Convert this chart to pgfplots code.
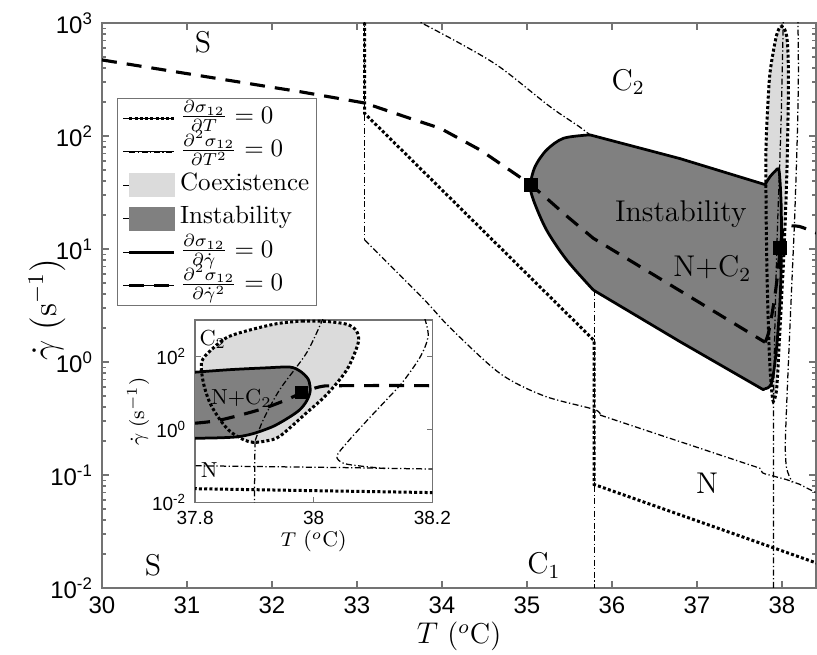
\documentclass[border=0pt]{standalone}
\usepackage{fontspec}
\usepackage{pgfplots}
\usepackage{pgfplotstable}
\pgfplotsset{compat=1.18}
\usetikzlibrary{calc}
\newfontfamily\helv{Liberation Sans}
\definecolor{lightfill}{gray}{0.86}
\definecolor{darkfill}{gray}{0.5}
\definecolor{axgray}{gray}{0.45}
\tikzset{
  dotl/.style={black, line width=1.2pt, dash pattern=on 1.2pt off 0.9pt},
  ddl/.style={black, line width=0.5pt, dash pattern=on 2.4pt off 1pt on 0.5pt off 1pt},
  sol/.style={black, line width=1.1pt, line join=round},
  dsh/.style={black, line width=1.25pt, dash pattern=on 6pt off 4pt},
}
% coexistence loop (dT sigma = 0), log10 of shear rate
\pgfplotstableread{
x y
37.98 2.97
38.02 2.96
38.056 2.88
38.072 2.70
38.075 2.37
38.056 1.64
38.022 0.96
37.988 0.46
37.943 -0.18
37.92 -0.31
37.898 -0.35
37.881 -0.27
37.859 -0.05
37.842 0.27
37.825 0.73
37.814 1.28
37.811 1.85
37.828 2.19
37.859 2.56
37.932 2.88
37.98 2.97
}\tLoop
\pgfplotstableread{
x y
35.78 0.637
35.467 0.903
35.23 1.168
35.075 1.434
35.04 1.566
35.094 1.728
35.23 1.876
35.43 1.98
35.74 2.01
36.8 1.80
37.8 1.57
37.859 1.64
37.921 1.69
37.96 1.71
37.977 1.60
37.991 1.37
37.994 1.05
37.988 0.78
37.977 0.55
37.96 0.35
37.932 0.09
37.898 -0.11
37.87 -0.20
37.831 -0.23
37.8 -0.235
37.78 -0.245
36.8 0.18
35.78 0.637
}\tInst
\pgfplotstableread{
x y
35.78 0.637
35.467 0.903
35.23 1.168
35.075 1.434
35.04 1.566
35.094 1.728
35.23 1.876
35.43 1.98
35.74 2.01
}\tBulge
\pgfplotstableread{
x y
35.74 2.01
36.8 1.80
37.8 1.57
}\tUpper
\pgfplotstableread{
x y
37.8 1.57
37.859 1.64
37.921 1.69
37.96 1.71
37.977 1.60
37.991 1.37
37.994 1.05
37.988 0.78
37.977 0.55
37.96 0.35
37.932 0.09
37.898 -0.11
37.87 -0.20
37.831 -0.23
37.8 -0.235
}\tEnd
\pgfplotstableread{
x y
37.8 -0.235
37.78 -0.245
36.8 0.18
35.78 0.637
}\tLower
\pgfplotstableread{
x y
33.66 3.04
34.21 2.82
34.68 2.61
35.27 2.26
35.62 2.08
35.74 2.01
}\tDDtop
\pgfplotstableread{
x y
33.09 1.08
33.78 0.56
34.1 0.30
34.68 -0.10
35.2 -0.30
35.79 -0.42
35.86 -0.47
}\tDDdiag
\pgfplotstableread{
x y
35.86 -0.47
37.74 -0.94
37.77 -0.98
37.8 -0.99
38.05 -1.04
38.2 -1.08
38.41 -1.16
}\tDDflat
\pgfplotstableread{
x y
38.016 3.05
37.988 2.10
37.943 1.10
37.915 0.27
37.901 -0.32
}\tDDleft
\pgfplotstableread{
x y
38.187 3.05
38.193 2.56
38.18 2.0
38.15 1.3
38.123 0.82
38.09 0.25
38.056 -0.36
38.039 -0.73
38.05 -0.92
38.08 -1.0
38.12 -1.065
}\tDDs
\pgfplotstableread{
x y
33.09 3.05
33.09 2.20
35.79 0.19
35.79 -1.084
38.41 -1.78
}\tDot
\pgfplotstableread{
x y
30 2.673
31 2.552
32 2.431
32.33 2.392
33.09 2.292
33.62 2.157
33.98 2.068
34.45 1.876
34.88 1.655
35.05 1.566
35.23 1.449
35.47 1.29
35.78 1.095
37.8 0.175
}\tDashA
\pgfplotstableread{
x y
37.8 0.175
37.842 0.26
37.91 0.55
37.955 0.82
37.98 1.01
38.01 1.17
38.04 1.2
38.2 1.2
38.41 1.14
}\tDashB
\newcommand\drawall{%
 \addplot[draw=none, fill=lightfill, forget plot] table {\tLoop};
 \addplot[draw=none, fill=darkfill, forget plot] table {\tInst};
 \addplot[ddl, smooth, forget plot] table {\tDDtop};
 \addplot[ddl, forget plot] coordinates {(33.09,3.05) (33.09,1.08)};
 \addplot[ddl, smooth, forget plot] table {\tDDdiag};
 \addplot[ddl, forget plot] table {\tDDflat};
 \addplot[ddl, forget plot] coordinates {(35.79,0.637) (35.79,-2.05)};
 \addplot[ddl, smooth, forget plot] table {\tDDleft};
 \addplot[ddl, forget plot] coordinates {(37.901,-0.32) (37.9,-2.05)};
 \addplot[ddl, smooth, forget plot] table {\tDDs};
 \addplot[dotl, forget plot] table {\tDot};
 \addplot[dotl, smooth, forget plot] table {\tLoop};
 \addplot[sol, smooth, forget plot] table {\tBulge};
 \addplot[sol, forget plot] table {\tUpper};
 \addplot[sol, smooth, forget plot] table {\tEnd};
 \addplot[sol, forget plot] table {\tLower};
 \addplot[dsh, forget plot] table {\tDashA};
 \addplot[dsh, smooth, forget plot] table {\tDashB};
}
\begin{document}
\begin{tikzpicture}
\begin{axis}[name=main, scale only axis, width=285.6pt, height=226pt,
  xmin=30, xmax=38.4, ymin=-2, ymax=3,
  xtick={30,31,32,33,34,35,36,37,38},
  xticklabels={30,31,32,33,34,35,36,37,38},
  ytick={-2,-1,0,1,2,3},
  yticklabels={10\textsuperscript{-2},10\textsuperscript{-1},10\textsuperscript{0},10\textsuperscript{1},10\textsuperscript{2},10\textsuperscript{3}},
  minor ytick={-1.699,-1.523,-1.398,-1.301,-1.222,-1.155,-1.097,-1.046,
    -0.699,-0.523,-0.398,-0.301,-0.222,-0.155,-0.097,-0.046,
    0.301,0.477,0.602,0.699,0.778,0.845,0.903,0.954,
    1.301,1.477,1.602,1.699,1.778,1.845,1.903,1.954,
    2.301,2.477,2.602,2.699,2.778,2.845,2.903,2.954},
  ticklabel style={font=\helv\fontsize{9.6}{11}\selectfont},
  axis line style={axgray, line width=0.6pt},
  tick style={axgray, line width=0.5pt},
  major tick length=2.8pt, minor tick length=1.6pt,
  xlabel={$T$ ($^o$C)},
  ylabel={$\dot{\gamma}\;(\mathrm{s}^{-1})$},
  every axis x label/.style={at={(axis description cs:0.5,-0.0863)}, anchor=center, font=\fontsize{11.5}{13}\selectfont},
  every axis y label/.style={at={(axis description cs:-0.077,0.492)}, rotate=90, anchor=center, font=\fontsize{13.5}{15}\selectfont},
  legend style={at={(rel axis cs:0.0214,0.867)}, anchor=north west, draw=axgray, fill=white,
    inner xsep=2pt, inner ysep=1.2pt, font=\fontsize{10}{11}\selectfont,
    row sep=0pt, column sep=1pt,
    nodes={inner sep=0.7pt, text height=7.9pt, text depth=4.1pt}},
  legend cell align=left,
]
\addlegendimage{legend image code/.code={\path (-2.4pt,0pt) -- (18pt,0pt); \draw[dotl] (0pt,0pt) -- (18pt,0pt);}}
\addlegendentry{$\frac{\partial \sigma_{12}}{\partial T} = 0$}
\addlegendimage{legend image code/.code={\path (-2.4pt,0pt) -- (18pt,0pt); \draw[ddl] (0pt,0pt) -- (18pt,0pt);}}
\addlegendentry{$\frac{\partial^2 \sigma_{12}}{\partial T^2} = 0$}
\addlegendimage{legend image code/.code={\path (-2.4pt,0pt) -- (18pt,0pt); \fill[lightfill] (0pt,-4.6pt) rectangle (18pt,4.6pt);}}
\addlegendentry{Coexistence}
\addlegendimage{legend image code/.code={\path (-2.4pt,0pt) -- (18pt,0pt); \fill[darkfill] (0pt,-4.6pt) rectangle (18pt,4.6pt);}}
\addlegendentry{Instability}
\addlegendimage{legend image code/.code={\path (-2.4pt,0pt) -- (18pt,0pt); \draw[sol] (0pt,0pt) -- (18pt,0pt);}}
\addlegendentry{$\frac{\partial \sigma_{12}}{\partial \dot{\gamma}} = 0$}
\addlegendimage{legend image code/.code={\path (-2.4pt,0pt) -- (18pt,0pt); \draw[dsh] (0pt,0pt) -- (18pt,0pt);}}
\addlegendentry{$\frac{\partial^2 \sigma_{12}}{\partial \dot{\gamma}^2} = 0$}
\drawall
\addplot[only marks, mark=square*, mark size=2.6pt, black, forget plot] coordinates {(35.05,1.566) (37.98,1.01)};
\node[font=\fontsize{12}{14}\selectfont] at (axis cs:31.19,2.83) {S};
\node[font=\fontsize{12}{14}\selectfont] at (axis cs:30.6,-1.8) {S};
\node[font=\fontsize{12}{14}\selectfont] at (axis cs:36.19,2.48) {C$_2$};
\node[font=\fontsize{12}{14}\selectfont] at (axis cs:36.81,1.31) {Instability};
\node[font=\fontsize{12}{14}\selectfont] at (axis cs:37.18,0.83) {N+C$_2$};
\node[font=\fontsize{12}{14}\selectfont] at (axis cs:37.12,-1.07) {N};
\node[font=\fontsize{12}{14}\selectfont] at (axis cs:35.2,-1.8) {C$_1$};
\coordinate (insetpos) at (rel axis cs:0.1303,0.151);
\end{axis}
\begin{axis}[name=inset, at={(insetpos)}, anchor=south west, scale only axis,
  width=94.9pt, height=73.1pt,
  xmin=37.8, xmax=38.2, ymin=-2, ymax=3,
  xtick={37.8,38,38.2}, xticklabels={37.8,38,38.2},
  ytick={-2,0,2}, yticklabels={10\textsuperscript{-2},10\textsuperscript{0},10\textsuperscript{2}},
  xminorticks=false, yminorticks=false,
  axis background/.style={fill=white},
  ticklabel style={font=\helv\fontsize{7.6}{9}\selectfont},
  axis line style={axgray, line width=0.6pt},
  tick style={axgray, line width=0.5pt},
  major tick length=2.2pt,
  xlabel={$T$ ($^o$C)},
  ylabel={$\dot{\gamma}\;(\mathrm{s}^{-1})$},
  every axis x label/.style={at={(axis description cs:0.5,-0.213)}, anchor=center, font=\fontsize{8.5}{10}\selectfont},
  every axis y label/.style={at={(axis description cs:-0.24,0.498)}, rotate=90, anchor=center, font=\fontsize{8.5}{10}\selectfont},
]
\drawall
\addplot[only marks, mark=square*, mark size=2.35pt, black, forget plot] coordinates {(37.98,1.01)};
\node[font=\fontsize{8.7}{10}\selectfont] at (axis cs:37.83,2.47) {C$_2$};
\node[font=\fontsize{8.7}{10}\selectfont] at (axis cs:37.878,0.85) {N+C$_2$};
\node[font=\fontsize{8.7}{10}\selectfont] at (axis cs:37.824,-1.1) {N};
\end{axis}
\pgfresetboundingbox
\path ($(main.south west)+(-40.8pt,-26.8pt)$) rectangle ($(main.north east)+(0.4pt,9.2pt)$);
\end{tikzpicture}
\end{document}
